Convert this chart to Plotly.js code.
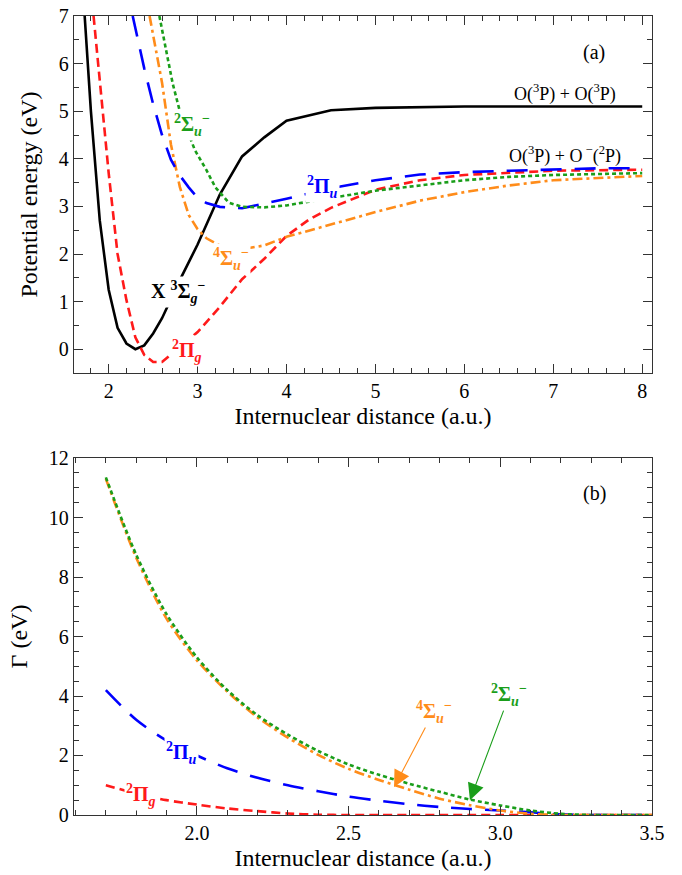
<!DOCTYPE html>
<html>
<head>
<meta charset="utf-8">
<script src="https://cdn.plot.ly/plotly-3.0.1.min.js"></script>
<style>html,body{margin:0;padding:0;background:#fff;}#chart{width:682px;height:875px;}</style>
</head>
<body>
<div id="chart"></div>
<script>
// ---------- Panel (a): potential energy curves ----------
const xX3Sg = [1.73,1.8,1.9,2.0,2.1,2.2,2.3,2.4,2.5,2.6,2.8,3.0,3.25,3.5,3.75,4.0,4.5,5.0,6.0,7.0,8.0];
const yX3Sg = [7.0,5.0,2.7,1.25,0.45,0.12,0.0,0.08,0.33,0.65,1.45,2.2,3.25,4.05,4.45,4.8,5.02,5.07,5.1,5.1,5.1];

const x2Pg = [1.83,1.9,2.0,2.1,2.2,2.3,2.4,2.5,2.6,3.0,3.25,3.5,3.75,4.0,4.25,4.5,5.0,5.5,6.0,7.0,8.0];
const y2Pg = [7.0,5.6,3.7,2.0,1.03,0.25,-0.12,-0.27,-0.27,0.36,0.89,1.47,1.9,2.38,2.72,2.97,3.35,3.55,3.66,3.75,3.77];

const x4Su = [2.46,2.5,2.6,2.7,2.8,2.9,3.0,3.1,3.25,3.5,3.75,4.0,4.5,5.0,5.5,6.0,6.5,7.0,8.0];
const y4Su = [7.0,6.6,5.6,4.3,3.41,2.82,2.52,2.33,2.18,2.1,2.18,2.36,2.62,2.88,3.12,3.30,3.44,3.55,3.64];

const x2Pu = [2.27,2.4,2.5,2.6,2.7,2.8,2.9,3.0,3.1,3.25,3.5,3.75,4.0,4.5,5.0,5.5,6.0,6.5,7.0,7.5,8.0];
const y2Pu = [7.0,5.9,5.15,4.5,3.98,3.65,3.4,3.18,3.07,2.99,2.96,3.06,3.16,3.38,3.55,3.67,3.72,3.75,3.78,3.8,3.8];

const x2Su = [2.57,2.65,2.72,2.8,2.9,2.97,3.1,3.2,3.35,3.5,3.75,4.0,4.25,4.5,5.0,5.5,6.0,6.5,7.0,8.0];
const y2Su = [7.0,6.25,5.58,5.0,4.5,4.18,3.76,3.4,3.08,2.99,2.98,3.02,3.1,3.18,3.33,3.44,3.55,3.62,3.66,3.70];

// ---------- Panel (b): widths Gamma ----------
const xG = [1.7,1.8,1.9,2.0,2.1,2.2,2.3,2.4,2.5,2.6,2.7,2.8,2.9,3.0,3.1,3.2,3.3,3.4,3.5];
const g2Su = [11.35,8.75,6.75,5.3,4.2,3.35,2.7,2.15,1.7,1.35,1.05,0.78,0.52,0.32,0.15,0.04,0,0,0];
const g4Su = [11.3,8.65,6.6,5.2,4.15,3.28,2.6,2.02,1.55,1.18,0.85,0.55,0.33,0.15,0.04,0,0,0,0];
const g2Pu = [4.2,3.2,2.5,2.0,1.57,1.25,1.0,0.8,0.62,0.48,0.36,0.27,0.2,0.15,0.09,0.02,0,0,0];
const g2Pg = [1.0,0.72,0.5,0.35,0.22,0.13,0.05,0.01,0,0,0,0,0,0,0,0,0,0,0];

const C = {black:'#000000', red:'#ff1a1a', blue:'#0000ff', green:'#1a9e1a', orange:'#ff8c1a'};
const DASH = {red:'9px,5px', blue:'21px,13px', green:'4px,3px', orange:'10px,4px,3px,4px'};
const LW = 2.6;

function tr(x, y, color, dash, xa, ya, shape){
  return {x:x, y:y, type:'scatter', mode:'lines', xaxis:xa, yaxis:ya, hoverinfo:'skip',
    line:{color:color, width:LW, dash:dash, shape:shape||'linear', smoothing:0.8}};
}
function empty(xa, ya){ return {x:[], y:[], type:'scatter', mode:'lines', xaxis:xa, yaxis:ya, hoverinfo:'skip'}; }

const data = [
  tr(xX3Sg, yX3Sg, C.black, 'solid', 'x', 'y'),
  tr(x2Pg, y2Pg, C.red, DASH.red, 'x', 'y'),
  tr(x4Su, y4Su, C.orange, DASH.orange, 'x', 'y'),
  tr(x2Pu, y2Pu, C.blue, DASH.blue, 'x', 'y'),
  tr(x2Su, y2Su, C.green, DASH.green, 'x', 'y'),
  tr(xG, g2Pg, C.red, DASH.red, 'x2', 'y2', 'spline'),
  tr(xG, g2Pu, C.blue, DASH.blue, 'x2', 'y2', 'spline'),
  tr(xG, g4Su, C.orange, DASH.orange, 'x2', 'y2', 'spline'),
  tr(xG, g2Su, C.green, DASH.green, 'x2', 'y2', 'spline'),
  empty('x3', 'y'), empty('x', 'y3'), empty('x4', 'y2'), empty('x2', 'y4')
];

const FONT = '"Liberation Serif", "Times New Roman", Times, serif';
const AX = '#333333';

function axis(extra){
  return Object.assign({
    showline:true, linecolor:AX, linewidth:1.2, mirror:true,
    ticks:'inside', ticklen:9, tickwidth:1, tickcolor:AX,
    showgrid:false, zeroline:false,
    tickfont:{family:FONT, size:20, color:'#000'},
  }, extra);
}
function mirrorAxis(extra){
  return Object.assign({
    showline:false, ticks:'inside', ticklen:9, tickwidth:1, tickcolor:AX,
    showgrid:false, zeroline:false, showticklabels:false
  }, extra);
}
function minor(d){ return {ticks:'inside', ticklen:5, tickwidth:1, tickcolor:AX, dtick:d, showgrid:false}; }

function lab(text, x, y, color, xr, yr, size){
  return {text:text, x:x, y:y, xref:xr, yref:yr, showarrow:false,
    font:{family:FONT, size:size||20, color:color}, bgcolor:'#ffffff', borderpad:1,
    xanchor:'center', yanchor:'middle'};
}

const annotations = [
  lab('(a)', 7.46, 6.24, '#000', 'x', 'y', 20),
  {text:'O(<sup>3</sup>P) + O(<sup>3</sup>P)', x:7.13, y:5.38, xref:'x', yref:'y', showarrow:false,
   font:{family:FONT, size:18, color:'#000'}},
  {text:'O(<sup>3</sup>P) + O<sup> −</sup>(<sup>2</sup>P)', x:7.13, y:4.08, xref:'x', yref:'y', showarrow:false,
   font:{family:FONT, size:18, color:'#000'}},
  lab('<b><sup>2</sup>Σ<sub><i>u</i></sub><sup>−</sup></b>', 2.94, 4.7, C.green, 'x', 'y'),
  lab('<b><sup>2</sup>Π<sub><i>u</i></sub></b>', 4.40, 3.40, C.blue, 'x', 'y'),
  lab('<b><sup>4</sup>Σ<sub><i>u</i></sub><sup>−</sup></b>', 3.38, 1.89, C.orange, 'x', 'y'),
  lab('<b>X <sup>3</sup>Σ<sub><i>g</i></sub><sup>−</sup></b>', 2.78, 1.2, '#000', 'x', 'y'),
  lab('<b><sup>2</sup>Π<sub><i>g</i></sub></b>', 2.88, -0.04, C.red, 'x', 'y'),

  lab('(b)', 3.31, 10.8, '#000', 'x2', 'y2', 20),
  lab('<b><sup>2</sup>Π<sub><i>u</i></sub></b>', 1.95, 2.1, C.blue, 'x2', 'y2'),
  lab('<b><sup>2</sup>Π<sub><i>g</i></sub></b>', 1.816, 0.67, C.red, 'x2', 'y2'),
  {text:'<b><sup>4</sup>Σ<sub><i>u</i></sub><sup>−</sup></b>', x:2.65, y:0.94, xref:'x2', yref:'y2',
   ax:2.78, ay:3.46, axref:'x2', ayref:'y2', showarrow:true, arrowhead:2, arrowsize:3, arrowwidth:1.1,
   arrowcolor:C.orange, font:{family:FONT, size:20, color:C.orange}},
  {text:'<b><sup>2</sup>Σ<sub><i>u</i></sub><sup>−</sup></b>', x:2.90, y:0.50, xref:'x2', yref:'y2',
   ax:3.03, ay:4.03, axref:'x2', ayref:'y2', showarrow:true, arrowhead:2, arrowsize:3, arrowwidth:1.1,
   arrowcolor:C.green, font:{family:FONT, size:20, color:C.green}}
];

const XA = [1.61, 8.11], YA = [-0.5, 7], XB = [1.595, 3.5], YB = [0, 12];
const DOM_A = [0.5532, 1], DOM_B = [0, 0.4468];

const layout = {
  width:682, height:875,
  margin:{l:74, r:30, t:16, b:60},
  paper_bgcolor:'#fff', plot_bgcolor:'#fff',
  showlegend:false,
  font:{family:FONT, color:'#000'},
  xaxis: axis({anchor:'y', range:XA, dtick:1, tick0:0, minor:minor(0.2),
    title:{text:'Internuclear distance (a.u.)', font:{family:FONT, size:24}, standoff:6}}),
  yaxis: axis({anchor:'x', domain:DOM_A, range:YA, dtick:1, tick0:0, minor:minor(0.5),
    title:{text:'Potential energy (eV)', font:{family:FONT, size:24}, standoff:14}}),
  xaxis2: axis({anchor:'y2', range:XB, dtick:0.5, tick0:0, tickformat:'.1f', minor:minor(0.1),
    title:{text:'Internuclear distance (a.u.)', font:{family:FONT, size:24}, standoff:6}}),
  yaxis2: axis({anchor:'x2', domain:DOM_B, range:YB, dtick:2, tick0:0, minor:minor(0.5),
    title:{text:'Γ (eV)', font:{family:FONT, size:24}, standoff:14}}),
  xaxis3: mirrorAxis({overlaying:'x', side:'top', anchor:'y', range:XA, dtick:1, tick0:0, minor:minor(0.2)}),
  yaxis3: mirrorAxis({overlaying:'y', side:'right', anchor:'x', range:YA, dtick:1, tick0:0, minor:minor(0.5)}),
  xaxis4: mirrorAxis({overlaying:'x2', side:'top', anchor:'y2', range:XB, dtick:0.5, tick0:0, minor:minor(0.1)}),
  yaxis4: mirrorAxis({overlaying:'y2', side:'right', anchor:'x2', range:YB, dtick:2, tick0:0, minor:minor(0.5)}),
  annotations: annotations
};

Plotly.newPlot('chart', data, layout, {displayModeBar:false, staticPlot:true});
</script>
</body>
</html>
